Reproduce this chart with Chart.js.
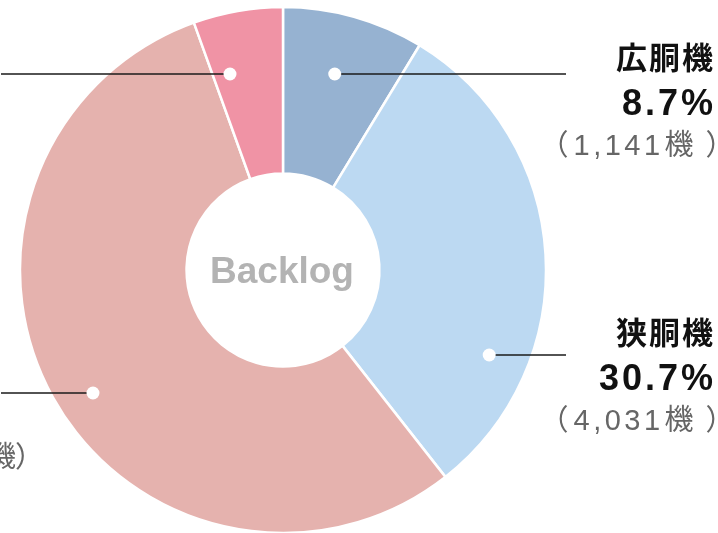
<!DOCTYPE html>
<html>
<head>
<meta charset="utf-8">
<script src="https://cdn.jsdelivr.net/npm/chart.js@4/dist/chart.umd.min.js"></script>
<style>
  html, body { margin: 0; padding: 0; background: #ffffff; overflow: hidden; }
  #wrap { width: 718px; height: 533px; position: relative; }
</style>
</head>
<body>
<div id="wrap"><canvas id="c" width="718" height="533"></canvas></div>
<script>
// ---- data ----
const categories = ['広胴機', '狭胴機', '狭胴機', '広胴機'];
const aircraftCounts = [1141, 4031, 7230, 722];
const sliceColors = ['#96b2d1', '#bcd9f2', '#e5b2ae', '#f093a5'];
const centerTitle = 'Backlog';
const unitLabel = '機';

// ---- label layout ----
const labelSide = ['right', 'right', 'left', 'left'];
const labelLineY = [74, 355, 393, 74];
const labelTextTop = [46, 321, 358, 46];
const dotRadiusFrac = [0.638, 0.76, 0.78, 0.64];
const rightTextX = 713;
const rightCountEnd = 738;
const rightLineEnd = 566;
const leftTextX = -138;
const leftLineStart = 1;
const countGapsRight = [1.5, 1, 8.4];
const countGapsLeft = [1.5, 1, -4.5];

const FONT_JP = '"Liberation Sans", "Noto Sans CJK JP", sans-serif';

const total = aircraftCounts.reduce((a, b) => a + b, 0);

function drawPieces(ctx, pieces, gaps, x, y, alignRight) {
  const widths = pieces.map(p => ctx.measureText(p).width);
  const totalW = widths.reduce((a, b) => a + b, 0) + gaps.reduce((a, b) => a + b, 0);
  let cur = alignRight ? x - totalW : x;
  ctx.textAlign = 'left';
  pieces.forEach((p, k) => {
    ctx.fillText(p, cur, y);
    cur += widths[k] + (k < gaps.length ? gaps[k] : 0);
  });
}

const labelPlugin = {
  id: 'calloutLabels',
  afterDatasetsDraw(chart) {
    const ctx = chart.ctx;
    const meta = chart.getDatasetMeta(0);
    const arc0 = meta.data[0];
    const cx = arc0.x, cy = arc0.y;
    const outer = arc0.outerRadius, inner = arc0.innerRadius;

    // center text
    ctx.save();
    ctx.fillStyle = '#b3b3b3';
    ctx.font = 'bold 37px ' + FONT_JP;
    ctx.textAlign = 'center';
    ctx.textBaseline = 'alphabetic';
    ctx.fillText(centerTitle, cx - 1, cy + 13);
    ctx.restore();

    aircraftCounts.forEach((v, i) => {
      const r = inner + dotRadiusFrac[i] * (outer - inner);
      const y = labelLineY[i];
      const dy = y - cy;
      const dx = Math.sqrt(Math.max(r * r - dy * dy, 0));
      const right = labelSide[i] === 'right';
      const dotX = right ? cx + dx : cx - dx;

      // leader line
      ctx.save();
      ctx.strokeStyle = '#1a1a1a';
      ctx.lineWidth = 1.5;
      ctx.beginPath();
      if (right) { ctx.moveTo(dotX, y); ctx.lineTo(rightLineEnd, y); }
      else { ctx.moveTo(leftLineStart, y); ctx.lineTo(dotX, y); }
      ctx.stroke();
      // dot
      ctx.fillStyle = '#ffffff';
      ctx.beginPath();
      ctx.arc(dotX, y, 6.5, 0, Math.PI * 2);
      ctx.fill();
      ctx.restore();

      // texts
      const top = labelTextTop[i];
      const tx = right ? rightTextX : leftTextX;
      const pct = (v / total * 100).toFixed(1) + '%';
      ctx.save();
      ctx.textAlign = right ? 'right' : 'left';
      ctx.fillStyle = '#111111';
      ctx.font = 'bold 31px ' + FONT_JP;
      ctx.letterSpacing = '2px';
      ctx.textBaseline = 'middle';
      ctx.fillText(categories[i], tx + (right ? 2 : 0), top + 14);
      ctx.font = 'bold 36px ' + FONT_JP;
      ctx.letterSpacing = '3px';
      ctx.textBaseline = 'alphabetic';
      ctx.fillText(pct, tx + (right ? 3 : 0), top + 69);
      ctx.fillStyle = '#666666';
      ctx.font = '29px ' + FONT_JP;
      ctx.letterSpacing = '3.5px';
      drawPieces(ctx, ['（', v.toLocaleString('en-US'), unitLabel, '）'],
                 right ? countGapsRight : countGapsLeft,
                 right ? rightCountEnd : tx, top + 109, right);
      ctx.restore();
    });
  }
};

new Chart(document.getElementById('c'), {
  type: 'doughnut',
  data: {
    labels: categories,
    datasets: [{
      data: aircraftCounts,
      backgroundColor: sliceColors,
      borderColor: '#ffffff',
      borderWidth: 2.5,
      hoverOffset: 0
    }]
  },
  options: {
    responsive: false,
    animation: false,
    radius: 263,
    cutout: 96,
    layout: { padding: { left: 0, right: 152, top: 7, bottom: 0 } },
    plugins: {
      legend: { display: false },
      tooltip: { enabled: false }
    },
    events: []
  },
  plugins: [labelPlugin]
});
</script>
</body>
</html>
